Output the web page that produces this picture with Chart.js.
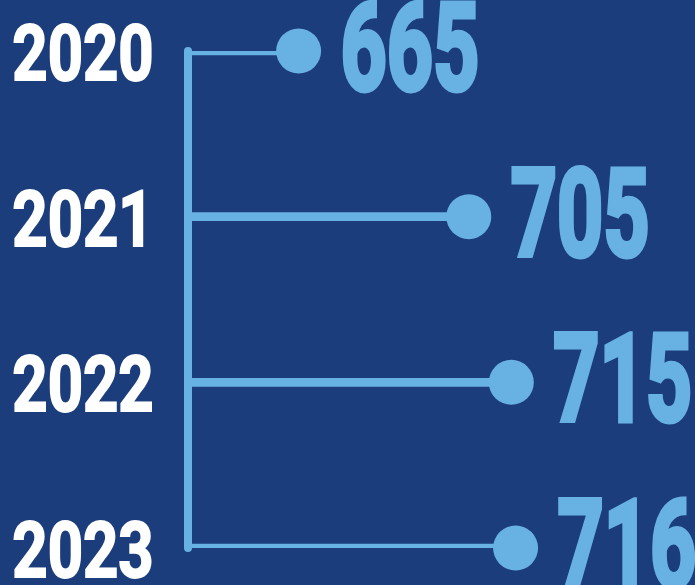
<!DOCTYPE html>
<html>
<head>
<meta charset="utf-8">
<script src="https://cdn.jsdelivr.net/npm/chart.js@4"></script>
<style>
  html, body { margin: 0; padding: 0; background: #1c3d7b; overflow: hidden; }
  canvas { display: block; }
</style>
</head>
<body>
<canvas id="grafico" width="695" height="585"></canvas>
<script>
// dados
var anos = ['2020', '2021', '2022', '2023'];
var valores = [665, 705, 715, 716];
var rotulos = ['665', '705', '715', '716'];

var azulClaro = '#68b1e3';
var xMin = 639;
var xMax = 757;
var fonte = '"Roboto", "DejaVu Sans Condensed", sans-serif';

// texto comprimido na horizontal (fonte condensada nao existe aqui)
function textoEstreito(ctx, txt, x, y, escala, contorno) {
    ctx.save();
    ctx.translate(x, y);
    ctx.scale(escala, 1);
    ctx.lineWidth = contorno;
    ctx.lineJoin = 'miter';
    ctx.strokeStyle = ctx.fillStyle;
    ctx.fillText(txt, 0, 0);
    if (contorno > 0) ctx.strokeText(txt, 0, 0);
    ctx.restore();
}

// linha vertical e textos
var desenhoExtra = {
    id: 'desenhoExtra',
    beforeDatasetsDraw: function(chart) {
        var ctx = chart.ctx;
        var x = chart.scales.x.getPixelForValue(xMin);
        var y0 = chart.scales.y.getPixelForValue(0);
        var y1 = chart.scales.y.getPixelForValue(anos.length - 1);
        ctx.save();
        ctx.strokeStyle = azulClaro;
        ctx.lineWidth = 8;
        ctx.lineCap = 'round';
        ctx.beginPath();
        ctx.moveTo(x, y0);
        ctx.lineTo(x, y1);
        ctx.stroke();
        ctx.restore();
    },
    afterDraw: function(chart) {
        var ctx = chart.ctx;
        var sx = chart.scales.x, sy = chart.scales.y;
        ctx.save();
        // anos
        ctx.fillStyle = '#ffffff';
        ctx.font = 'bold 77px ' + fonte;
        ctx.textAlign = 'center';
        ctx.textBaseline = 'alphabetic';
        anos.forEach(function(a, i) {
            textoEstreito(ctx, a, 83, sy.getPixelForValue(i) + 29, 0.8, 2);
        });
        // valores
        ctx.fillStyle = azulClaro;
        ctx.font = 'bold 123px ' + fonte;
        ctx.textAlign = 'left';
        rotulos.forEach(function(r, i) {
            var x = sx.getPixelForValue(valores[i]);
            textoEstreito(ctx, r, x + 42, sy.getPixelForValue(i) + 39, 0.655, 5);
        });
        ctx.restore();
    }
};

var ctx = document.getElementById('grafico').getContext('2d');
var grafico = new Chart(ctx, {
    data: {
        labels: anos,
        datasets: [
            {
                type: 'bar',
                data: valores.map(function(v) { return [xMin, v]; }),
                backgroundColor: azulClaro,
                barThickness: 8,
                borderWidth: 0
            },
            {
                type: 'line',
                data: valores,
                showLine: false,
                pointRadius: 22.5,
                pointHoverRadius: 22.5,
                pointBackgroundColor: azulClaro,
                pointBorderWidth: 0,
                clip: false
            }
        ]
    },
    options: {
        indexAxis: 'y',
        responsive: false,
        animation: false,
        layout: {
            autoPadding: false,
            padding: { left: 188, right: 5, top: 51, bottom: 37 }
        },
        plugins: {
            legend: { display: false },
            tooltip: { enabled: false }
        },
        scales: {
            x: { type: 'linear', min: xMin, max: xMax, display: false },
            y: { type: 'category', offset: false, display: false }
        }
    },
    plugins: [desenhoExtra]
});
</script>
</body>
</html>
